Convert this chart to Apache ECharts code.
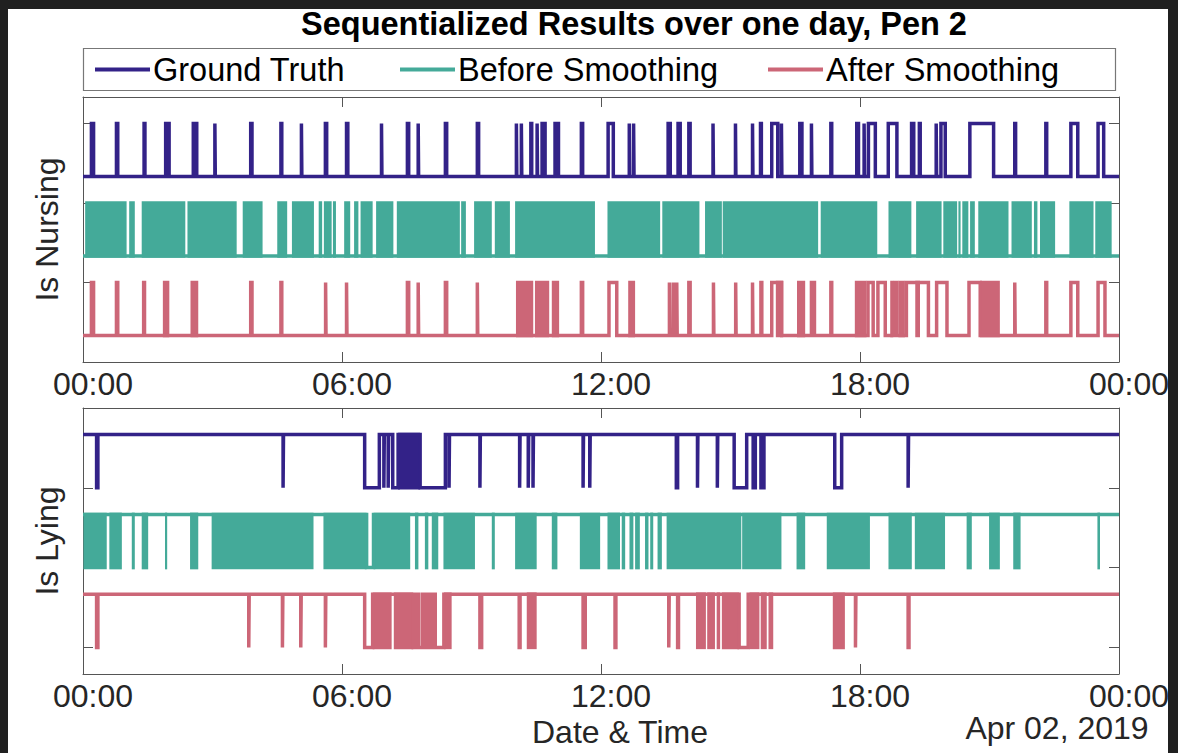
<!DOCTYPE html>
<html><head><meta charset="utf-8">
<script src="https://cdn.jsdelivr.net/npm/echarts@6/dist/echarts.min.js"></script>
<style>html,body{margin:0;padding:0;background:#202020;} #c{width:1178px;height:753px;}</style>
</head><body><div id="c"></div>
<script>
// ---- Data (times in hours of Apr 01-02, 2019) ----
const xTickValues = [0, 6, 12, 18, 24];
const xTickLabels = ['00:00', '06:00', '12:00', '18:00', '00:00'];
const seriesNames = ['Ground Truth', 'Before Smoothing', 'After Smoothing'];

// Is Nursing (baseline: not nursing). Intervals = nursing.
const nursingTruthPulses = [[0.195,0.245],[0.775,0.805],[1.415,1.435],[1.915,1.995],[2.555,2.635],[3.055,3.065],[3.885,3.915],[4.585,4.605],[5.06,5.07],[5.615,5.645],[6.105,6.135],[6.915,6.925],[7.515,7.545],[7.765,7.775],[8.395,8.425],[9.135,9.165],[10.04,10.05],[10.155,10.165],[10.375,10.395],[10.52,10.53],[10.635,10.705],[10.935,11.015],[11.545,11.575],
  [12.165,12.285],[12.655,12.665],[12.755,12.765],[13.555,13.605],[13.785,13.835],[14.035,14.065],[14.595,14.605],[15.115,15.125],[15.51,15.52],[15.695,15.715],[15.955,16.095],[16.18,16.19],[16.605,16.655],[16.875,16.885],[17.325,17.345],[17.925,17.965],[18.095,18.105],[18.195,18.355],[18.655,18.855],[19.195,19.245],[19.375,19.395],[19.765,19.775],[19.875,19.975],[20.545,21.095],[21.585,21.605],[22.305,22.325],[22.885,23.045],[23.515,23.645]];
const nursingTruthDense = [];
const nursingBeforePulses = [];
const nursingBeforeDense = [[0.05,1.01],[1.07,1.20],[1.36,2.37],[2.42,3.56],[3.70,4.16],[4.50,4.73],[4.84,5.35],[5.46,5.54],[5.58,5.76],[5.79,5.86],[6.05,6.19],[6.28,6.38],[6.43,6.71],[6.79,7.19],[7.27,8.73],[8.76,8.87],[9.06,9.47],[9.54,9.89],[10.01,11.86],
  [12.15,13.37],[13.42,14.28],[14.41,14.80],[14.82,17.03],[17.09,18.40],[18.66,19.19],[19.30,19.89],[19.93,20.25],[20.28,20.33],[20.37,20.51],[20.55,20.66],[20.74,21.44],[21.51,21.98],[22.03,22.11],[22.17,22.52],[22.85,23.41],[23.45,23.83]];
const nursingAfterPulses = [[0.195,0.245],[0.775,0.805],[1.405,1.425],[3.885,3.915],[4.585,4.605],[5.62,5.63],[6.105,6.115],[7.515,7.545],[7.765,7.775],[8.395,8.425],[9.135,9.145],[11.545,11.575],
  [12.185,12.365],[13.585,13.595],[13.675,13.685],[13.755,13.765],[14.035,14.065],[14.605,14.615],[15.12,15.13],[15.51,15.52],[15.705,15.725],[15.955,16.185],[16.875,16.945],[17.325,17.345],[18.185,18.305],[18.415,18.585],[18.805,18.855],[19.075,19.585],[19.775,20.015],[20.525,20.785],[21.585,21.595],[22.305,22.325],[22.885,23.045],[23.515,23.675]];
const nursingAfterDense = [[1.85,2.00],[2.49,2.67],[10.03,10.43],[10.47,10.80],[10.86,11.03],[12.63,12.79],[16.05,16.22],[16.54,16.73],[17.88,18.15],[18.70,18.77],[18.89,19.04],[19.28,19.39],[20.78,21.24]];

// Is Lying (baseline: lying). Intervals = not lying.
const lyingTruthPulses = [[0.315,0.345],[4.635,4.645],[6.525,6.865],[6.97,6.98],[7.07,7.08],[7.175,7.30],[7.81,8.395],[8.48,8.49],[9.195,9.205],[10.115,10.125],[10.315,10.325],[10.425,10.435],[11.585,11.595],[11.74,11.75],
  [13.745,13.775],[14.235,14.245],[14.695,14.705],[15.085,15.375],[15.525,15.575],[15.705,15.775],[17.415,17.575],[19.115,19.125]];
const lyingTruthDense = [[7.30,7.81]];
const lyingBeforePulses = [[6.57,6.73]];
const lyingBeforeDense = [[0.01,0.55],[0.61,0.90],[1.13,1.20],[1.36,1.51],[1.90,1.95],[2.48,2.67],[2.98,5.34],[5.57,6.57],[6.73,7.58],[7.69,7.77],[7.92,8.00],[8.08,8.23],[8.35,9.08],[9.47,9.54],[10.01,10.51],[10.86,10.99],[11.51,11.98],
  [12.15,12.44],[12.48,12.56],[12.66,12.75],[12.79,12.90],[13.02,13.10],[13.14,13.21],[13.31,13.41],[13.52,15.25],[15.27,16.18],[16.53,16.73],[17.23,18.23],[18.66,19.20],[19.27,19.97],[20.47,20.59],[20.99,21.24],[21.55,21.72],[23.50,23.56]];
const lyingAfterPulses = [[0.315,0.345],[3.84,3.85],[4.62,4.63],[5.045,5.055],[5.615,5.625],[6.525,6.71],[7.65,7.71],[7.78,7.87],[7.93,7.98],[8.04,8.10],[8.16,8.36],[9.195,9.235],[10.105,10.125],[11.585,11.635],
  [12.325,12.345],[13.57,13.58],[13.775,13.795],[15.20,15.41],[17.895,17.905],[19.115,19.135]];
const lyingAfterDense = [[6.71,7.15],[7.20,7.65],[8.36,8.54],[10.28,10.51],[14.20,14.43],[14.46,14.64],[14.68,14.76],[14.80,15.20],[15.44,15.67],[15.70,15.84],[15.88,15.99],[17.37,17.65]];

// ---- Presentation ----
const colors = ['#332288', '#44AA99', '#CC6677'];
const levels = [[3, 4], [1.5, 2.5], [0, 1]]; // [low, high] offsets per signal
const FONT = '"Liberation Sans", Arial, Helvetica, sans-serif';
const AX = '#555555';
const LW = 3.5;

function stepLine(intervals, lo, hi, baseLow) {
  const base = baseLow ? lo : hi, alt = baseLow ? hi : lo;
  const iv = intervals.slice().sort((a, b) => a[0] - b[0]);
  const pts = [[0, base]];
  iv.forEach(([s, e]) => { pts.push([s, base], [s, alt], [e, alt], [e, base]); });
  pts.push([24, base]);
  return pts;
}

const panels = [
  { name: 'Is Nursing', baseLow: true, ticks: [1, 2.5, 4],
    pulses: [nursingTruthPulses, nursingBeforePulses, nursingAfterPulses],
    dense: [nursingTruthDense, nursingBeforeDense, nursingAfterDense] },
  { name: 'Is Lying', baseLow: false, ticks: [0, 1.5, 3],
    pulses: [lyingTruthPulses, lyingBeforePulses, lyingAfterPulses],
    dense: [lyingTruthDense, lyingBeforeDense, lyingAfterDense] }
];

const grids = [
  { left: 83, width: 1036, top: 97, height: 265 },
  { left: 83, width: 1036, top: 408, height: 266 }
];

const xAxes = [], yAxes = [], series = [];
panels.forEach((p, g) => {
  const xBase = { gridIndex: g, type: 'value', min: 0, max: 24, interval: 6, splitLine: { show: false },
    axisLine: { show: true, onZero: false, lineStyle: { color: AX, width: 1 } },
    axisTick: { show: true, inside: true, length: 10, lineStyle: { color: AX, width: 1 } } };
  xAxes.push(Object.assign({}, xBase, { position: 'bottom',
    axisLabel: { show: true, margin: 6, fontSize: 32, fontFamily: FONT, color: '#262626', padding: [0, 0, 0, 20],
      showMinLabel: true, showMaxLabel: true,
      formatter: v => xTickLabels[xTickValues.indexOf(v)] } }));
  xAxes.push(Object.assign({}, xBase, { position: 'top', axisLabel: { show: false } }));
  const yBase = { gridIndex: g, type: 'value', min: -0.5, max: 4.5, splitLine: { show: false },
    axisLine: { show: true, onZero: false, lineStyle: { color: AX, width: 1 } },
    axisTick: { show: true, inside: true, length: 10, customValues: p.ticks, lineStyle: { color: AX, width: 1 } },
    axisLabel: { show: false, customValues: p.ticks } };
  yAxes.push(Object.assign({}, yBase, { position: 'left', name: p.name, nameLocation: 'middle', nameRotate: 90, nameGap: 20,
    nameTextStyle: { fontSize: 32, fontFamily: FONT, color: '#262626' } }));
  yAxes.push(Object.assign({}, yBase, { position: 'right' }));

  const xi = g * 2, yi = g * 2;
  seriesNames.forEach((sn, k) => {
    const [lo, hi] = levels[k];
    series.push({ type: 'line', name: sn, xAxisIndex: xi, yAxisIndex: yi, symbol: 'none', showSymbol: false,
      animation: false, silent: true, z: 3 + k,
      itemStyle: { color: colors[k] }, lineStyle: { color: colors[k], width: LW, join: 'miter' },
      data: stepLine(p.pulses[k], lo, hi, p.baseLow) });
    series.push({ type: 'custom', name: sn, xAxisIndex: xi, yAxisIndex: yi, animation: false, silent: true, z: 3 + k,
      itemStyle: { color: colors[k] },
      encode: { x: [0, 1], y: [2, 3] },
      data: p.dense[k].map(([s, e]) => [s, e, lo, hi]),
      renderItem: (params, api) => {
        const a = api.coord([api.value(0), api.value(3)]);
        const b = api.coord([api.value(1), api.value(2)]);
        return { type: 'rect', shape: { x: a[0], y: a[1] - LW / 2, width: b[0] - a[0], height: b[1] - a[1] + LW },
          style: { fill: colors[k] } };
      } });
  });
});

const legendLefts = [95, 400, 768];
const legends = seriesNames.map((n, i) => ({
  data: [n], left: legendLefts[i], top: 53, padding: 0, icon: 'rect', itemWidth: 55, itemHeight: 4, itemGap: 0,
  selectedMode: false, z: 10,
  textStyle: { fontSize: 32.5, fontFamily: FONT, color: '#000', padding: [0, 0, 0, -2] }
}));

const chart = echarts.init(document.getElementById('c'), null, { renderer: 'svg' });
chart.setOption({
  backgroundColor: '#202020',
  animation: false,
  grid: grids,
  xAxis: xAxes,
  yAxis: yAxes,
  legend: legends,
  series: series,
  graphic: [
    { type: 'rect', z: -10, silent: true, shape: { x: 8, y: 9, width: 1160, height: 744 }, style: { fill: '#ffffff' } },
    { type: 'rect', z: 1, silent: true, shape: { x: 83.5, y: 48.5, width: 1032, height: 42 }, style: { fill: '#ffffff', stroke: '#777777', lineWidth: 1.2 } },
    { type: 'text', z: 5, x: 634, y: 24, style: { text: 'Sequentialized Results over one day, Pen 2', fontSize: 32.5, fontWeight: 'bold', fontFamily: FONT, fill: '#000', align: 'center', verticalAlign: 'middle' } },
    { type: 'text', z: 5, x: 620, y: 732, style: { text: 'Date & Time', fontSize: 32, fontFamily: FONT, fill: '#262626', align: 'center', verticalAlign: 'middle' } },
    { type: 'text', z: 5, x: 1057, y: 728, style: { text: 'Apr 02, 2019', fontSize: 32, fontFamily: FONT, fill: '#262626', align: 'center', verticalAlign: 'middle' } }
  ]
});
</script>
</body></html>
